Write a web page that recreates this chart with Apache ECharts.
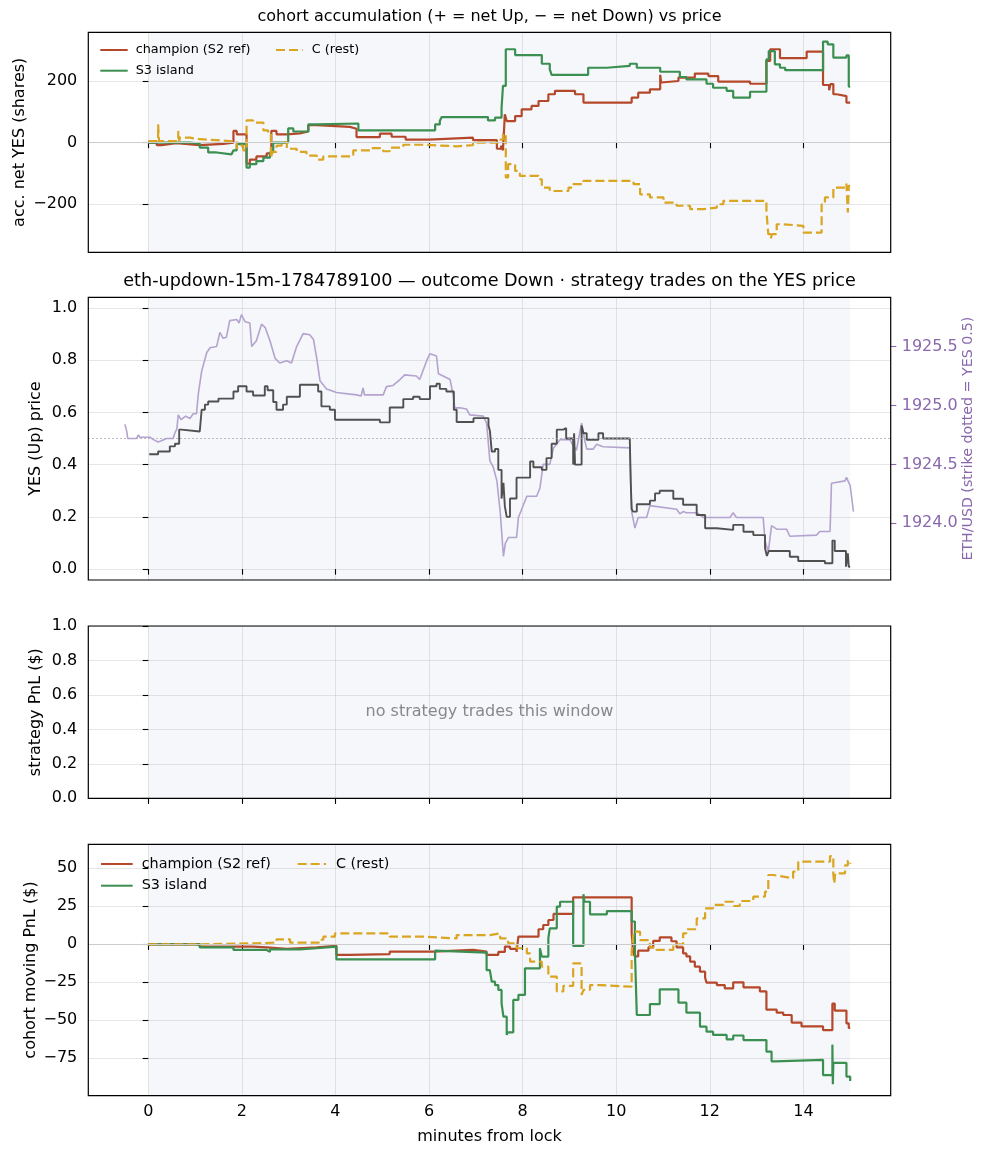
<!DOCTYPE html>
<html>
<head>
<meta charset="utf-8">
<script src="https://cdn.jsdelivr.net/npm/echarts@6/dist/echarts.min.js"></script>
<style>
  html, body { margin: 0; padding: 0; background: #fff; }
  #chart { width: 988px; height: 1156px; }
</style>
</head>
<body>
<div id="chart"></div>
<script>
// ---------- data (minutes from lock, value) ----------
const X_TICKS = [0, 2, 4, 6, 8, 10, 12, 14];
const ACC_TICKS = [-200, 0, 200];
const PRICE_TICKS = [0, 0.2, 0.4, 0.6, 0.8, 1.0];
const ETH_TICKS = [1924.0, 1924.5, 1925.0, 1925.5];
const PNL_TICKS = [-75, -50, -25, 0, 25, 50];
const STRIKE_YES = 0.5;
const WINDOW = [0, 15];

// panel 1: accumulated net YES shares
const accChampion = [[0,0],[0.18,-8],[0.28,-2],[0.6,-8],[1.1,-4],[1.6,0],[1.82,38],[1.89,27],[2.1,-68],[2.17,-55],[2.31,-45],[2.53,-35],[2.63,38],[2.74,27],[2.96,30],[3.24,36],[3.42,57],[3.6,51],[4.31,45],[4.45,18],[4.95,29],[5.2,19],[5.5,10],[6.0,16],[6.94,8],[7.45,-20],[7.54,-10],[7.58,-25],[7.62,92],[7.66,70],[7.84,86],[7.98,108],[8.19,119],[8.34,135],[8.55,157],[8.69,168],[9.12,157],[9.3,130],[10.33,146],[10.47,162],[10.72,173],[10.94,220],[10.96,195],[11.0,200],[11.33,211],[11.68,224],[11.97,216],[12.18,198],[12.86,191],[13.21,265],[13.29,303],[13.5,274],[14.07,295],[14.42,187],[14.55,170],[14.58,190],[14.64,157],[14.71,151],[14.92,130],[15.0,130]];
const accIsland = [[0,0],[0.89,-3],[1.1,-16],[1.28,-32],[1.46,-38],[1.78,-43],[1.82,-25],[1.89,-5],[2.1,-81],[2.17,-70],[2.31,-60],[2.46,-49],[2.6,-32],[2.67,0],[2.99,46],[3.1,36],[3.42,59],[3.6,62],[4.49,40],[6.13,59],[6.23,70],[6.27,83],[7.26,72],[7.41,81],[7.55,113],[7.58,184],[7.64,303],[7.84,284],[8.41,256],[8.58,238],[8.62,220],[9.4,243],[9.8,249],[10.29,256],[10.44,243],[10.94,230],[11.36,213],[11.5,205],[11.93,191],[12.07,178],[12.36,168],[12.5,146],[12.86,165],[13.21,270],[13.26,297],[13.39,254],[13.5,243],[13.61,235],[14.42,328],[14.52,319],[14.64,276],[14.92,283],[14.97,182],[15.0,182]];
const accRest = [[0,5],[0.21,59],[0.23,5],[0.64,38],[0.66,5],[0.68,16],[0.89,11],[1.1,8],[1.46,3],[1.89,-20],[1.92,-10],[2.03,-25],[2.1,72],[2.24,65],[2.46,40],[2.56,30],[2.62,-50],[2.65,-30],[2.74,-10],[2.85,2],[2.96,-20],[3.17,-30],[3.38,-42],[3.6,-55],[3.74,-45],[4.38,-25],[4.74,-18],[5.02,-28],[5.16,-16],[5.45,-7],[5.88,-12],[6.59,-8],[6.94,0],[7.48,10],[7.58,28],[7.64,-113],[7.69,-70],[7.84,-92],[7.94,-108],[8.34,-119],[8.41,-146],[8.58,-157],[8.98,-146],[9.08,-135],[9.3,-124],[10.37,-135],[10.51,-168],[10.72,-178],[11.01,-195],[11.29,-205],[11.58,-216],[11.86,-211],[12.15,-200],[12.29,-189],[13.21,-222],[13.25,-297],[13.3,-312],[13.33,-297],[13.43,-265],[13.57,-270],[14.0,-292],[14.39,-200],[14.46,-178],[14.64,-146],[14.92,-133],[14.95,-227],[14.97,-140],[15.0,-140]];

// panel 2: YES price (step) and ETH/USD
const yesPrice = [[0.02,0.44],[0.21,0.45],[0.46,0.47],[0.57,0.48],[0.66,0.534],[0.71,0.527],[1.1,0.527],[1.14,0.61],[1.21,0.63],[1.28,0.642],[1.5,0.653],[1.82,0.68],[1.92,0.70],[2.1,0.68],[2.24,0.665],[2.49,0.70],[2.55,0.685],[2.67,0.64],[2.74,0.61],[2.88,0.63],[2.96,0.66],[3.24,0.706],[3.63,0.68],[3.7,0.623],[3.88,0.61],[3.99,0.572],[4.95,0.562],[5.16,0.619],[5.45,0.651],[5.66,0.66],[5.8,0.651],[6.02,0.70],[6.16,0.71],[6.23,0.69],[6.37,0.68],[6.53,0.61],[6.59,0.563],[6.95,0.578],[7.27,0.55],[7.3,0.53],[7.34,0.45],[7.41,0.46],[7.48,0.38],[7.55,0.27],[7.59,0.33],[7.62,0.24],[7.66,0.20],[7.73,0.27],[7.87,0.35],[8.16,0.412],[8.23,0.39],[8.41,0.38],[8.51,0.425],[8.62,0.48],[8.73,0.534],[8.87,0.54],[8.93,0.50],[9.08,0.40],[9.1,0.52],[9.12,0.40],[9.26,0.55],[9.3,0.52],[9.37,0.495],[9.62,0.52],[9.72,0.50],[10.29,0.50],[10.31,0.335],[10.33,0.23],[10.36,0.22],[10.44,0.248],[10.72,0.262],[10.83,0.29],[10.93,0.30],[11.22,0.269],[11.43,0.246],[11.72,0.207],[11.9,0.156],[12.15,0.15],[12.5,0.169],[12.72,0.143],[12.93,0.13],[13.18,0.08],[13.22,0.05],[13.26,0.069],[13.71,0.047],[13.89,0.031],[14.46,0.022],[14.62,0.109],[14.67,0.069],[14.91,0.009],[14.95,0.06],[14.97,0.009],[15.0,0.009]];
const ethUsd = [[-0.5,1924.84],[-0.46,1924.78],[-0.44,1924.72],[-0.25,1924.72],[-0.21,1924.75],[-0.18,1924.73],[0.04,1924.73],[0.11,1924.71],[0.21,1924.69],[0.28,1924.70],[0.39,1924.72],[0.53,1924.72],[0.57,1924.77],[0.61,1924.80],[0.64,1924.92],[0.7,1924.88],[0.8,1924.91],[0.89,1924.89],[0.96,1924.93],[1.03,1924.93],[1.07,1925.1],[1.14,1925.29],[1.25,1925.45],[1.32,1925.49],[1.46,1925.5],[1.53,1925.62],[1.6,1925.57],[1.67,1925.58],[1.74,1925.72],[1.89,1925.73],[1.94,1925.70],[1.99,1925.77],[2.07,1925.71],[2.17,1925.70],[2.21,1925.50],[2.31,1925.55],[2.42,1925.69],[2.5,1925.66],[2.6,1925.55],[2.71,1925.40],[2.81,1925.36],[2.96,1925.38],[3.06,1925.36],[3.17,1925.5],[3.31,1925.61],[3.45,1925.6],[3.53,1925.56],[3.6,1925.4],[3.67,1925.21],[3.81,1925.14],[3.95,1925.12],[4.02,1925.11],[4.45,1925.09],[4.55,1925.08],[4.59,1925.15],[4.62,1925.09],[5.02,1925.09],[5.09,1925.16],[5.23,1925.17],[5.38,1925.22],[5.48,1925.26],[5.73,1925.25],[5.8,1925.22],[5.95,1925.38],[6.02,1925.44],[6.16,1925.42],[6.2,1925.27],[6.3,1925.25],[6.45,1925.22],[6.52,1925.08],[6.55,1924.98],[6.66,1924.98],[6.8,1924.97],[6.87,1924.92],[7.16,1924.91],[7.23,1924.85],[7.3,1924.53],[7.37,1924.48],[7.45,1924.36],[7.52,1924.10],[7.59,1923.72],[7.63,1923.83],[7.7,1923.88],[7.87,1923.88],[7.91,1924.05],[7.98,1924.12],[8.09,1924.23],[8.3,1924.23],[8.37,1924.30],[8.44,1924.50],[8.58,1924.50],[8.66,1924.64],[8.8,1924.71],[9.01,1924.71],[9.05,1924.68],[9.15,1924.62],[9.26,1924.85],[9.33,1924.7],[9.37,1924.63],[9.51,1924.63],[9.58,1924.67],[9.72,1924.65],[10.29,1924.64],[10.33,1924.1],[10.4,1923.96],[10.47,1924.05],[10.65,1924.05],[10.72,1924.15],[11.29,1924.12],[11.36,1924.08],[11.43,1924.1],[11.5,1924.09],[11.72,1924.09],[11.86,1924.05],[12.43,1924.05],[12.5,1924.09],[12.57,1924.05],[13.14,1924.05],[13.18,1923.85],[13.25,1923.76],[13.32,1923.98],[13.43,1923.95],[13.64,1923.95],[13.71,1923.89],[14.28,1923.90],[14.35,1923.93],[14.57,1923.93],[14.6,1924.34],[14.89,1924.36],[14.92,1924.39],[15.0,1924.32],[15.07,1924.10]];

// panel 4: cohort moving PnL ($)
const pnlChampion = [[0,0],[1.1,-1.5],[2.24,-2],[2.53,-3],[2.96,-2],[3.6,-1],[4.02,-7],[4.31,-6.4],[5.16,-4.8],[6.09,-3.7],[6.94,-4.8],[7.23,-7],[7.48,-5],[7.62,-1.5],[7.73,-3],[7.87,-5],[7.91,5],[8.34,9.9],[8.44,12.7],[8.55,16],[8.66,20],[9.08,30.9],[10.33,7.7],[10.36,-5],[10.4,-8],[10.47,-4.2],[10.69,-2],[10.79,2.2],[10.93,4.6],[11.18,2],[11.29,-2],[11.43,-6],[11.5,-8],[11.58,-11.4],[11.68,-14.7],[11.79,-18],[11.9,-22],[11.93,-25.2],[12.15,-26.8],[12.32,-29],[12.5,-25],[12.72,-28.3],[13.07,-31],[13.21,-43],[13.43,-45],[13.57,-46.5],[13.75,-51.5],[13.96,-54],[14.42,-56.4],[14.62,-39],[14.67,-43.6],[14.92,-52],[14.97,-55],[15.0,-55]];
const pnlIsland = [[0,0],[1.1,-2],[1.82,-3.7],[2.53,-5],[2.6,-3.3],[3.24,-2.6],[3.6,-1.5],[4.02,-9.9],[6.13,-4.2],[6.16,-5.5],[7.23,-17],[7.3,-18],[7.34,-24.6],[7.41,-26.8],[7.48,-30],[7.55,-38.8],[7.59,-47.6],[7.66,-59.6],[7.68,-57.9],[7.8,-36.6],[7.91,-33.3],[8.05,-15.8],[8.37,-2.6],[8.41,-8.1],[8.55,4],[8.58,10.5],[8.73,24.8],[8.8,28],[9.08,-1],[9.3,33],[9.32,28],[9.44,19.7],[9.8,21.9],[10.33,15],[10.4,-5],[10.44,-46.5],[10.72,-39.3],[10.93,-29.6],[11.33,-38.4],[11.5,-45],[11.79,-54.2],[11.93,-57.5],[12.07,-59.6],[12.36,-62.5],[12.5,-60],[12.72,-63],[13.21,-70.6],[13.32,-77],[13.39,-76],[14.42,-86],[14.62,-66],[14.63,-92],[14.64,-78],[14.92,-87],[15.0,-90]];
const pnlRest = [[0,0],[1.1,0.7],[2.31,1.1],[2.74,3.3],[3.03,1.1],[3.67,3],[3.74,5],[3.99,7.2],[5.16,5],[5.88,3.9],[6.59,6.1],[7.3,7.2],[7.52,3.9],[7.69,0.7],[7.87,-2.6],[8.09,-5.9],[8.16,-11.4],[8.41,-14.7],[8.55,-21.3],[8.73,-31],[8.87,-27.4],[9.08,-12.5],[9.26,-33.3],[9.3,-30],[9.44,-26.8],[9.65,-27.9],[10.33,-5],[10.37,8.3],[10.51,2.8],[10.72,-2],[10.86,-3.7],[11.22,0],[11.43,7.2],[11.5,9.9],[11.72,17],[11.9,23.7],[12.07,25.9],[12.29,28],[12.5,25.2],[12.64,28.5],[12.93,31.4],[13.18,34.6],[13.25,45.6],[13.36,44.5],[13.57,43.4],[13.78,47.8],[13.89,54.4],[14.57,58.1],[14.64,46],[14.66,40],[14.68,46.7],[14.89,52],[14.95,55],[15.0,53]];

// ---------- styling ----------
const FONT = 'DejaVu Sans';
const C_CHAMP = '#b5482a';
const C_ISLAND = '#3b8f50';
const C_REST = '#daa520';
const C_YES = '#505050';
const C_ETH = '#b5a3cf';
const C_ETH_AXIS = '#8a68ad';
const GRID_LINE = 'rgba(176,176,176,0.32)';
const SHADE = 'rgb(245,247,251)';

const X_MIN = -1.282, X_MAX = 15.866;
const GRIDS = [
  { left: 88.3, top: 32.3, width: 802.4, height: 220 },
  { left: 88.3, top: 297.3, width: 802.4, height: 282.7 },
  { left: 88.3, top: 626, width: 802.4, height: 172.3 },
  { left: 88.3, top: 844.3, width: 802.4, height: 251.4 }
];

const minusFmt = v => (v < 0 ? '\u2212' + Math.abs(v) : String(v));

function xAxisFor(gi, last) {
  return {
    type: 'value', gridIndex: gi, min: X_MIN, max: X_MAX, z: 2,
    axisLine: { show: false },
    axisTick: { show: true, length: 5.6, customValues: X_TICKS, lineStyle: { color: '#000', width: 1.1 } },
    axisLabel: { show: last, customValues: X_TICKS, margin: 8, fontSize: 16, color: '#000', fontFamily: FONT },
    splitLine: { show: true, lineStyle: { color: GRID_LINE, width: 1 } },
    name: last ? 'minutes from lock' : '',
    nameLocation: 'middle', nameGap: 33, nameMoveOverlap: false,
    nameTextStyle: { fontSize: 16, color: '#000', fontFamily: FONT }
  };
}

function yAxisFor(gi, min, max, ticks, fmt, name, gap) {
  return {
    type: 'value', gridIndex: gi, min: min, max: max, z: 2,
    axisLine: { show: false },
    axisTick: { show: true, length: 5.6, customValues: ticks, lineStyle: { color: '#000', width: 1.1 } },
    axisLabel: { customValues: ticks, formatter: fmt, margin: 11, fontSize: 16, color: '#000', fontFamily: FONT },
    splitLine: { show: true, lineStyle: { color: GRID_LINE, width: 1 } },
    name: name, nameLocation: 'middle', nameRotate: 90, nameGap: gap, nameMoveOverlap: false,
    nameTextStyle: { fontSize: 16, color: '#000', fontFamily: FONT }
  };
}

// background series: shaded trading window plus reference line
function backdrop(gi, yi, lineAt, lineStyle) {
  const s = {
    type: 'line', xAxisIndex: gi, yAxisIndex: yi, data: [], z: 1, silent: true,
    markArea: { silent: true, itemStyle: { color: SHADE }, data: [[{ xAxis: WINDOW[0] }, { xAxis: WINDOW[1] }]] }
  };
  if (lineAt !== null) {
    s.markLine = { silent: true, symbol: 'none', label: { show: false }, lineStyle: lineStyle, data: [{ yAxis: lineAt }] };
  }
  return s;
}

function stepSeries(name, gi, data, color, dashed) {
  return {
    name: name, type: 'line', xAxisIndex: gi, yAxisIndex: gi === 3 ? 4 : gi, data: data,
    step: 'end', symbol: 'none', z: 3,
    lineStyle: { color: color, width: 2.2, type: dashed ? [9, 4] : 'solid' },
    itemStyle: { color: color }
  };
}

function legendFor(left, top, names, fontSize, rowH, gap, iconW, textPad) {
  return {
    left: left, top: top, orient: 'vertical', padding: 0,
    itemWidth: iconW, itemHeight: rowH, itemGap: gap, selectedMode: false,
    itemStyle: { opacity: 0 },
    data: names,
    textStyle: { fontSize: fontSize, lineHeight: rowH, color: '#000', fontFamily: FONT, padding: [0, 0, 0, textPad] }
  };
}

const ZERO_LINE = { color: '#cccccc', width: 1.1, type: 'solid' };

const chart = echarts.init(document.getElementById('chart'), null, { renderer: 'canvas' });

chart.setOption({
  animation: false,
  backgroundColor: '#fff',
  textStyle: { fontFamily: FONT },
  grid: GRIDS.map(g => Object.assign({ show: true, borderColor: '#000', borderWidth: 1.2, backgroundColor: 'transparent', z: 10 }, g)),
  xAxis: [xAxisFor(0, false), xAxisFor(1, false), xAxisFor(2, false), xAxisFor(3, true)],
  yAxis: [
    yAxisFor(0, -356, 358, ACC_TICKS, minusFmt, 'acc. net YES (shares)', 60),
    yAxisFor(1, -0.042, 1.041, PRICE_TICKS, v => v.toFixed(1), 'YES (Up) price', 44),
    {
      type: 'value', gridIndex: 1, position: 'right', min: 1923.519, max: 1925.918, z: 2,
      axisLine: { show: false },
      axisTick: { show: true, length: 5.6, customValues: ETH_TICKS, lineStyle: { color: C_ETH_AXIS, width: 1.1 } },
      axisLabel: { customValues: ETH_TICKS, formatter: v => v.toFixed(1), margin: 11, fontSize: 16, color: C_ETH_AXIS, fontFamily: FONT },
      splitLine: { show: false },
      name: 'ETH/USD (strike dotted = YES 0.5)', nameLocation: 'middle', nameRotate: 90, nameGap: 71, nameMoveOverlap: false,
      nameTextStyle: { fontSize: 14.2, color: C_ETH_AXIS, fontFamily: FONT }
    },
    yAxisFor(2, 0, 1, PRICE_TICKS, v => v.toFixed(1), 'strategy PnL ($)', 44),
    yAxisFor(3, -99.6, 65.8, PNL_TICKS, minusFmt, 'cohort moving PnL ($)', 49)
  ],
  legend: [
    legendFor(99.3, 43, ['champion (S2 ref)', 'S3 island'], 12.8, 14, 6.7, 27.4, 3),
    legendFor(275, 43, ['C (rest)'], 12.8, 14, 6.7, 26.7, 4),
    legendFor(100, 856, ['champion (S2 ref)', 'S3 island'], 14.4, 16, 5.7, 31.7, 4),
    legendFor(296.7, 856, ['C (rest)'], 14.4, 16, 5.7, 28.3, 5)
  ],
  graphic: [
    { type: 'text', x: 489.5, y: 17, z: 100, silent: true,
      style: { text: 'cohort accumulation (+ = net Up, \u2212 = net Down) vs price', fontSize: 16, fontFamily: FONT, fill: '#000', align: 'center', verticalAlign: 'middle' } },
    { type: 'text', x: 489.5, y: 281.5, z: 100, silent: true,
      style: { text: 'eth-updown-15m-1784789100 \u2014 outcome Down \u00b7 strategy trades on the YES price', fontSize: 17.6, fontFamily: FONT, fill: '#000', align: 'center', verticalAlign: 'middle' } },
    { type: 'text', x: 489.5, y: 712, z: 100, silent: true,
      style: { text: 'no strategy trades this window', fontSize: 16, fontFamily: FONT, fill: '#888888', align: 'center', verticalAlign: 'middle' } }
  ],
  series: [
    backdrop(0, 0, 0, ZERO_LINE),
    stepSeries('champion (S2 ref)', 0, accChampion, C_CHAMP, false),
    stepSeries('S3 island', 0, accIsland, C_ISLAND, false),
    stepSeries('C (rest)', 0, accRest, C_REST, true),

    backdrop(1, 1, STRIKE_YES, { color: '#a9a3b6', width: 1, type: [1.5, 2.5] }),
    {
      name: 'ETH/USD', type: 'line', xAxisIndex: 1, yAxisIndex: 2, data: ethUsd, symbol: 'none', z: 2,
      lineStyle: { color: C_ETH, width: 1.6 }
    },
    {
      name: 'YES price', type: 'line', xAxisIndex: 1, yAxisIndex: 1, data: yesPrice, step: 'end', symbol: 'none', z: 3,
      lineStyle: { color: C_YES, width: 1.9 }
    },

    backdrop(2, 3, null, null),

    backdrop(3, 4, 0, ZERO_LINE),
    stepSeries('champion (S2 ref)', 3, pnlChampion, C_CHAMP, false),
    stepSeries('S3 island', 3, pnlIsland, C_ISLAND, false),
    stepSeries('C (rest)', 3, pnlRest, C_REST, true)
  ]
});
</script>
</body>
</html>
